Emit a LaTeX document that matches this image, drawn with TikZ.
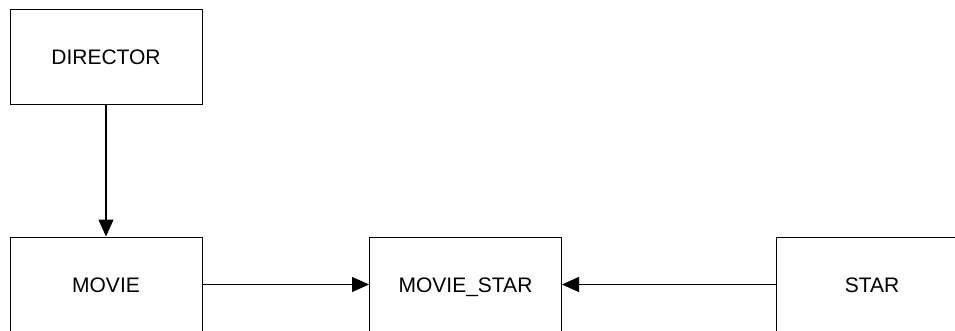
\documentclass[tikz,border=0pt]{standalone}
\usepackage{fontspec}
\setmainfont{Liberation Sans}
\usetikzlibrary{arrows.meta}
\begin{document}
\begin{tikzpicture}[x=1pt,y=-1pt,
  entity/.style={draw=black,line width=1pt,minimum width=192pt,minimum height=95pt,inner sep=0pt,text height=15pt,text depth=0pt,font=\fontsize{21}{25}\selectfont,text=black},
  link/.style={draw=black,line width=1.1pt,-{Triangle[length=17pt,width=15pt]}}]
\useasboundingbox (0,0) rectangle (955,331);
\fill[white] (0,0) rectangle (955,331);
\node[entity] (director) at (106,57.5) {DIRECTOR};
\node[entity] (movie) at (106,284.5) {MOVIE};
\node[entity] (moviestar) at (465.5,284.5) {MOVIE\_STAR};
\node[entity] (star) at (872,284.5) {STAR};
\draw[link] (director) -- (movie);
\draw[link] (movie) -- (moviestar);
\draw[link] (star) -- (moviestar);
\end{tikzpicture}
\end{document}
